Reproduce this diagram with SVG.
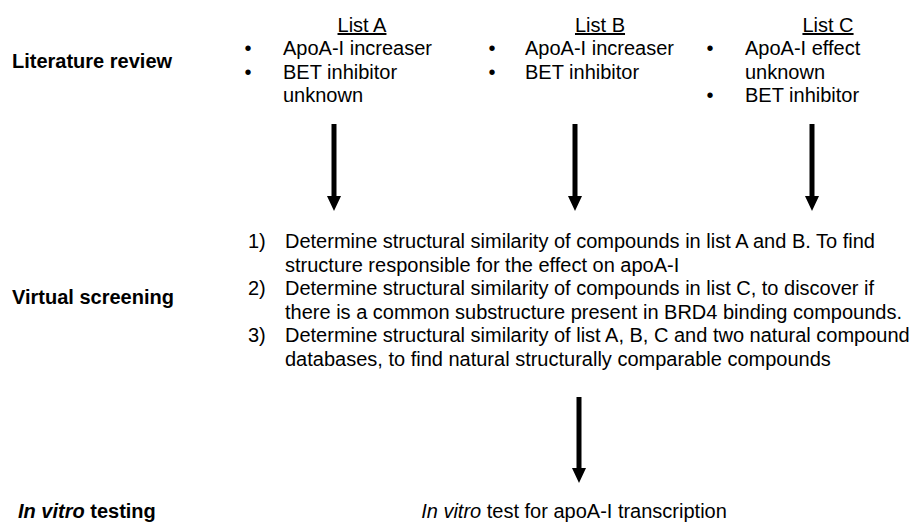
<svg xmlns="http://www.w3.org/2000/svg" width="919" height="524" viewBox="0 0 919 524">
<style>
text{font-family:"Liberation Sans",Arial,sans-serif;font-size:20px;fill:#000}
.b{font-weight:bold}
.u{text-decoration:underline}
.c{text-anchor:middle}
.arr{stroke:#000;stroke-width:5;fill:none}
</style>
<defs>
<marker id="ah" viewBox="0 0 15 14" refX="0" refY="7" markerWidth="15" markerHeight="14" markerUnits="userSpaceOnUse" orient="auto">
<path d="M0,0 L15,7 L0,14 Z" fill="#000"/>
</marker>
</defs>
<rect width="919" height="524" fill="#fff"/>
<g id="stage-literature"><text class="b" x="12" y="68">Literature review</text></g>
<g id="list-a">
<text class="c u" x="362" y="32">List A</text>
<text class="c" x="248" y="55">•</text><text x="283" y="55">ApoA-I increaser</text>
<text class="c" x="248" y="79">•</text><text x="283" y="79">BET inhibitor</text>
<text x="283" y="102">unknown</text>
</g>
<g id="list-b">
<text class="c u" x="600" y="32">List B</text>
<text class="c" x="492" y="55">•</text><text x="525" y="55">ApoA-I increaser</text>
<text class="c" x="492" y="79">•</text><text x="525" y="79">BET inhibitor</text>
</g>
<g id="list-c">
<text class="c u" x="828" y="32">List C</text>
<text class="c" x="710" y="55">•</text><text x="745" y="55">ApoA-I effect</text>
<text x="745" y="79">unknown</text>
<text class="c" x="710" y="102">•</text><text x="745" y="102">BET inhibitor</text>
</g>
<g id="stage-virtual"><text class="b" x="12" y="304">Virtual screening</text></g>
<g id="screening-steps">
<text x="248" y="248">1)</text><text x="285" y="248">Determine structural similarity of compounds in list A and B. To find</text>
<text x="285" y="271.6">structure responsible for the effect on apoA-I</text>
<text x="248" y="295.2">2)</text><text x="285" y="295.2">Determine structural similarity of compounds in list C, to discover if</text>
<text x="285" y="318.8">there is a common substructure present in BRD4 binding compounds.</text>
<text x="248" y="342.4">3)</text><text x="285" y="342.4">Determine structural similarity of list A, B, C and two natural compound</text>
<text x="285" y="366">databases, to find natural structurally comparable compounds</text>
</g>
<g id="stage-invitro"><text class="b" x="18" y="518"><tspan font-style="italic">In vitro</tspan> testing</text></g>
<g id="invitro-test"><text class="c" x="574" y="518"><tspan font-style="italic">In vitro</tspan> test for apoA-I transcription</text></g>
<g id="connectors">
<line class="arr" x1="334" y1="124" x2="334" y2="196" marker-end="url(#ah)"/>
<line class="arr" x1="575" y1="124" x2="575" y2="196" marker-end="url(#ah)"/>
<line class="arr" x1="812" y1="124" x2="812" y2="196" marker-end="url(#ah)"/>
<line class="arr" x1="579" y1="397" x2="579" y2="468" marker-end="url(#ah)"/>
</g>
</svg>
